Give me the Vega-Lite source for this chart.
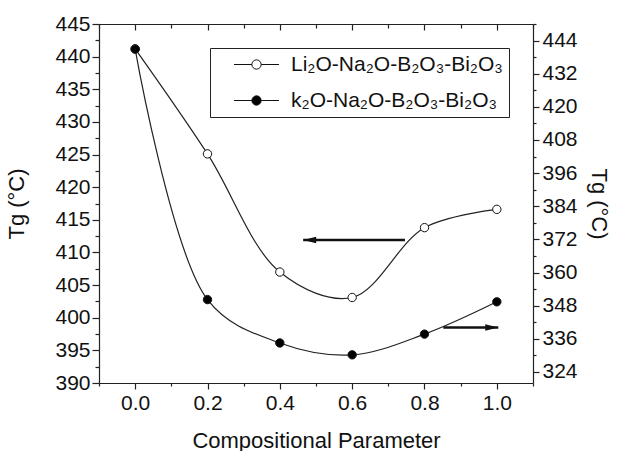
{
  "$schema": "https://vega.github.io/schema/vega-lite/v6.json",
  "width": 434,
  "height": 359,
  "padding": {"left": 5, "top": 13, "right": 3, "bottom": 0},
  "config": {
    "font": "Liberation Sans",
    "view": {"stroke": null},
    "axis": {
      "domainColor": "#222", "domainWidth": 1.2,
      "tickColor": "#222", "tickWidth": 1.2,
      "labelColor": "#111", "titleColor": "#111",
      "labelFont": "Liberation Sans", "titleFont": "Liberation Sans",
      "labelFontSize": 21, "titleFontSize": 22, "titleFontWeight": "normal",
      "labelOverlap": false, "grid": false
    }
  },
  "layer": [
    {
      "data": {"values": [
        {"x": 0.0, "tg": 441.2, "series": "Li₂O-Na₂O-B₂O₃-Bi₂O₃"},
        {"x": 0.2, "tg": 425.1, "series": "Li₂O-Na₂O-B₂O₃-Bi₂O₃"},
        {"x": 0.4, "tg": 407.0, "series": "Li₂O-Na₂O-B₂O₃-Bi₂O₃"},
        {"x": 0.6, "tg": 403.1, "series": "Li₂O-Na₂O-B₂O₃-Bi₂O₃"},
        {"x": 0.8, "tg": 413.8, "series": "Li₂O-Na₂O-B₂O₃-Bi₂O₃"},
        {"x": 1.0, "tg": 416.6, "series": "Li₂O-Na₂O-B₂O₃-Bi₂O₃"}
      ]},
      "encoding": {
        "x": {
          "field": "x", "type": "quantitative",
          "scale": {"domain": [-0.1, 1.1], "nice": false, "zero": false},
          "axis": {
            "orient": "bottom", "title": "Compositional Parameter",
            "values": [-0.1, 0, 0.1, 0.2, 0.3, 0.4, 0.5, 0.6, 0.7, 0.8, 0.9, 1.0, 1.1],
            "labelExpr": "abs(round(datum.value*10)) % 2 === 0 ? format(datum.value, '.1f') : ''",
            "tickSize": {"condition": {"test": "abs(round(datum.value*10)) % 2 === 0", "value": 6}, "value": 3},
            "labelPadding": 3, "titlePadding": 17, "labelFlush": false
          }
        },
        "y": {
          "field": "tg", "type": "quantitative",
          "scale": {"domain": [390, 445], "nice": false, "zero": false},
          "axis": {
            "orient": "left", "title": "Tg (°C)",
            "values": [390, 392.5, 395, 397.5, 400, 402.5, 405, 407.5, 410, 412.5, 415, 417.5, 420, 422.5, 425, 427.5, 430, 432.5, 435, 437.5, 440, 442.5, 445],
            "labelExpr": "datum.value % 5 === 0 ? datum.label : ''",
            "tickSize": {"condition": {"test": "datum.value % 5 === 0", "value": 7}, "value": 4},
            "labelPadding": 2, "titlePadding": 26
          }
        }
      },
      "layer": [
        {
          "mark": {"type": "line", "interpolate": "catmull-rom", "color": "#222", "strokeWidth": 1.2}
        },
        {
          "mark": {"type": "point", "shape": "circle", "filled": true, "size": 70, "stroke": "#111", "strokeWidth": 1, "opacity": 1},
          "encoding": {
            "fill": {
              "field": "series", "type": "nominal",
              "scale": {"domain": ["Li₂O-Na₂O-B₂O₃-Bi₂O₃", "k₂O-Na₂O-B₂O₃-Bi₂O₃"], "range": ["white", "black"]},
              "legend": {
                "title": null, "orient": "top-right", "offset": 24,
                "strokeColor": "#222", "fillColor": "white", "padding": 6, "rowPadding": 14,
                "symbolType": "M-3,0L-0.62,0M0.62,0L3,0M0.62,0A0.62,0.62,0,1,1,-0.62,0A0.62,0.62,0,1,1,0.62,0Z",
                "symbolSize": 225, "symbolStrokeColor": "#111", "symbolStrokeWidth": 1, "symbolOpacity": 1,
                "symbolOffset": 30, "labelOffset": 24,
                "labelFontSize": 21, "labelLimit": 400, "labelColor": "#111", "labelFont": "Liberation Sans"
              }
            }
          }
        }
      ]
    },
    {
      "data": {"values": [
        {"x": 0.0, "tg": 440.9, "series": "k₂O-Na₂O-B₂O₃-Bi₂O₃"},
        {"x": 0.2, "tg": 350.2, "series": "k₂O-Na₂O-B₂O₃-Bi₂O₃"},
        {"x": 0.4, "tg": 334.5, "series": "k₂O-Na₂O-B₂O₃-Bi₂O₃"},
        {"x": 0.6, "tg": 330.2, "series": "k₂O-Na₂O-B₂O₃-Bi₂O₃"},
        {"x": 0.8, "tg": 337.7, "series": "k₂O-Na₂O-B₂O₃-Bi₂O₃"},
        {"x": 1.0, "tg": 349.4, "series": "k₂O-Na₂O-B₂O₃-Bi₂O₃"}
      ]},
      "encoding": {
        "x": {
          "field": "x", "type": "quantitative",
          "axis": {
            "orient": "top", "title": null, "labels": false,
            "values": [-0.1, 0, 0.1, 0.2, 0.3, 0.4, 0.5, 0.6, 0.7, 0.8, 0.9, 1.0, 1.1],
            "tickSize": {"condition": {"test": "abs(round(datum.value*10)) % 2 === 0", "value": -6}, "value": -4}
          }
        },
        "y": {
          "field": "tg", "type": "quantitative",
          "scale": {"domain": [320, 450], "nice": false, "zero": false},
          "axis": {
            "orient": "right", "title": "Tg (°C)",
            "values": [324, 330, 336, 342, 348, 354, 360, 366, 372, 378, 384, 390, 396, 402, 408, 414, 420, 426, 432, 438, 444, 450],
            "labelExpr": "(datum.value - 324) % 12 === 0 ? datum.label : ''",
            "tickSize": {"condition": {"test": "(datum.value - 324) % 12 === 0", "value": 6}, "value": 3},
            "labelPadding": 3, "titlePadding": 9
          }
        }
      },
      "layer": [
        {
          "mark": {"type": "line", "interpolate": "catmull-rom", "color": "#222", "strokeWidth": 1.2}
        },
        {
          "mark": {"type": "point", "shape": "circle", "filled": true, "size": 70, "stroke": "#111", "strokeWidth": 1, "opacity": 1},
          "encoding": {
            "fill": {"field": "series", "type": "nominal"}
          }
        }
      ]
    },
    {
      "data": {"values": [
        {"x": 0.746, "xend": 0.4645, "y": 411.9, "dir": "left"},
        {"x": 0.852, "xend": 1.004, "y": 398.5, "dir": "right"}
      ]},
      "encoding": {
        "y": {"field": "y", "type": "quantitative", "scale": {"domain": [390, 445], "nice": false, "zero": false}, "axis": null}
      },
      "layer": [
        {
          "mark": {"type": "rule", "color": "#111", "strokeWidth": 2.5},
          "encoding": {
            "x": {"field": "x", "type": "quantitative", "axis": null},
            "x2": {"field": "xend"}
          }
        },
        {
          "mark": {"type": "point", "filled": true, "color": "#111", "opacity": 1, "size": 169, "strokeWidth": 0},
          "encoding": {
            "x": {"field": "xend", "type": "quantitative", "axis": null},
            "shape": {
              "field": "dir", "type": "nominal", "legend": null,
              "scale": {"domain": ["left", "right"], "range": ["M0,0L2,-0.5L2,0.5Z", "M0,0L-2,-0.5L-2,0.5Z"]}
            }
          }
        }
      ]
    }
  ],
  "resolve": {"scale": {"y": "independent"}, "axis": {"x": "independent"}}
}
